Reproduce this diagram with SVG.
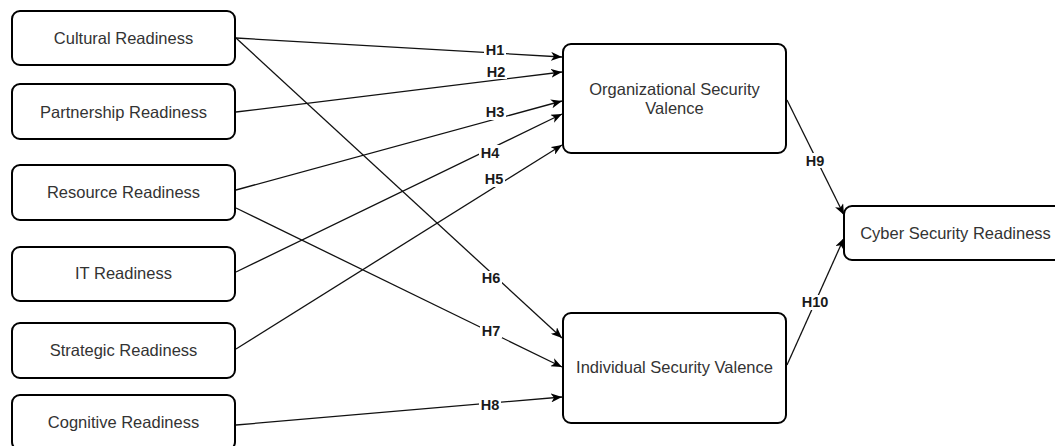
<svg xmlns="http://www.w3.org/2000/svg" width="1055" height="446" viewBox="0 0 1055 446">
<defs>
<style>
.node rect{fill:#fff;stroke:#000;stroke-width:2}
.node text{font-family:"Liberation Sans",Arial,sans-serif;font-size:16.5px;fill:#333;text-anchor:middle;dominant-baseline:central}
.edge{fill:none;stroke:#111;stroke-width:1.3;marker-end:url(#arr)}
.lbl rect{fill:#fff}
.lbl text{font-family:"Liberation Sans",Arial,sans-serif;font-size:14.5px;font-weight:bold;fill:#1a1a1a;text-anchor:middle;dominant-baseline:central}
</style>
<marker id="arr" markerUnits="userSpaceOnUse" markerWidth="11" markerHeight="9" viewBox="0 0 11 9" refX="11" refY="4.5" orient="auto">
<path d="M0,0 L11,4.5 L0,9 L3,4.5 z" fill="#000"/>
</marker>
</defs>
<rect width="1055" height="446" fill="#fff"/>
<g id="connectors">
<line class="edge" x1="236" y1="38" x2="562" y2="57"/>
<line class="edge" x1="236" y1="112" x2="562" y2="72"/>
<line class="edge" x1="236" y1="190" x2="562" y2="101"/>
<line class="edge" x1="236" y1="272" x2="562" y2="114"/>
<line class="edge" x1="236" y1="349" x2="562" y2="145"/>
<line class="edge" x1="236" y1="38" x2="562" y2="338"/>
<line class="edge" x1="236" y1="208" x2="562" y2="367"/>
<line class="edge" x1="236" y1="425" x2="562" y2="397"/>
<line class="edge" x1="787" y1="100" x2="844" y2="215"/>
<line class="edge" x1="787" y1="365" x2="844" y2="238"/>
<g class="lbl">
<rect x="484" y="42" width="22" height="15"/><text x="495" y="49.5">H1</text>
<rect x="485" y="64" width="22" height="15"/><text x="496" y="71.5">H2</text>
<rect x="484" y="105" width="22" height="15"/><text x="495" y="112">H3</text>
<rect x="479" y="145" width="22" height="15"/><text x="490" y="152.5">H4</text>
<rect x="483" y="172" width="22" height="15"/><text x="494" y="179">H5</text>
<rect x="480" y="271" width="22" height="15"/><text x="491" y="278">H6</text>
<rect x="480" y="323" width="22" height="15"/><text x="491" y="330.5">H7</text>
<rect x="479" y="398" width="22" height="15"/><text x="490" y="405">H8</text>
<rect x="804" y="153" width="22" height="15"/><text x="815" y="160.5">H9</text>
<rect x="800" y="295" width="30" height="15"/><text x="815" y="302">H10</text>
</g>
</g>
<g id="cultural" class="node"><rect x="12" y="11" width="223" height="54" rx="8"/><text x="123.5" y="38">Cultural Readiness</text></g>
<g id="partnership" class="node"><rect x="12" y="84" width="223" height="55" rx="8"/><text x="123.5" y="111.5">Partnership Readiness</text></g>
<g id="resource" class="node"><rect x="12" y="165" width="223" height="55" rx="8"/><text x="123.5" y="192">Resource Readiness</text></g>
<g id="it" class="node"><rect x="12" y="247" width="223" height="54" rx="8"/><text x="123.5" y="273">IT Readiness</text></g>
<g id="strategic" class="node"><rect x="12" y="323" width="223" height="55" rx="8"/><text x="123.5" y="350">Strategic Readiness</text></g>
<g id="cognitive" class="node"><rect x="12" y="395" width="223" height="55" rx="8"/><text x="123.5" y="422">Cognitive Readiness</text></g>
<g id="org" class="node"><rect x="563" y="44" width="223" height="109" rx="8"/><text x="674.5" y="89">Organizational Security</text><text x="674.5" y="108">Valence</text></g>
<g id="individual" class="node"><rect x="563" y="313" width="223" height="110" rx="8"/><text x="674.5" y="367">Individual Security Valence</text></g>
<g id="cyber" class="node"><rect x="844" y="206" width="223" height="54" rx="8"/><text x="955.5" y="233">Cyber Security Readiness</text></g>
</svg>
